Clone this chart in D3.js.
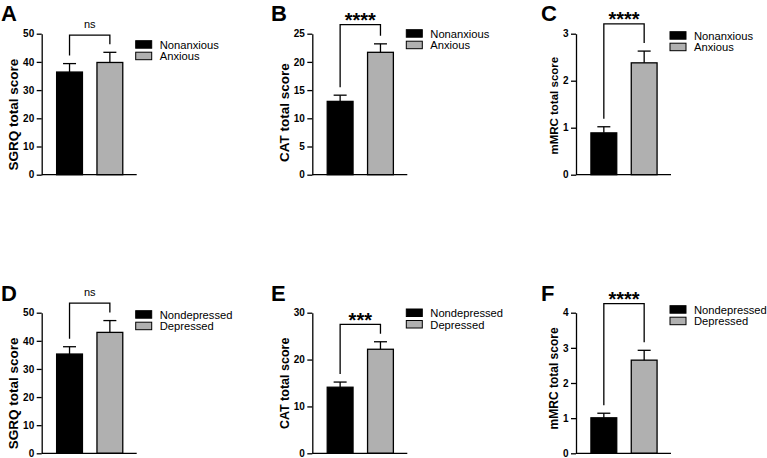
<!DOCTYPE html>
<html lang="en">
<head>
<meta charset="UTF-8">
<title>Anxiety / depression scores</title>
<style>
    body { margin: 0; background: #fff; }
    svg { display: block; font-family: "Liberation Sans", Arial, Helvetica, sans-serif; }
    .axis path, .axis line { stroke: #000; stroke-width: 1.3px; }
    .axis text { font-size: 10px; font-weight: bold; fill: #000; }
</style>
</head>
<body>
<div id="chart"></div>
<script src="https://d3js.org/d3.v7.min.js"></script>
<script>

    // ---- data ----
    var groupsAnx = ["Nonanxious", "Anxious"];
    var groupsDep = ["Nondepressed", "Depressed"];
    var panelLetters = ["A", "B", "C", "D", "E", "F"];
    var yTitles = ["SGRQ total score", "CAT total score", "mMRC total score",
                   "SGRQ total score", "CAT total score", "mMRC total score"];
    var means = [[36.4, 39.8], [13.0, 21.7], [0.89, 2.38],
                 [35.3, 43.0], [14.1, 22.2], [1.01, 2.65]];
    var sems  = [[3.0, 3.6], [1.1, 1.5], [0.13, 0.25],
                 [2.6, 4.2], [1.1, 1.6], [0.13, 0.28]];
    var yMax = [50, 25, 3, 50, 30, 4];
    var yStep = [10, 5, 1, 10, 10, 1];
    var sigLabels = ["ns", "****", "****", "ns", "***", "****"];
    var bracketAt = [49.5, 26.6, 3.21, 53.4, 27.5, 4.26];

    var barColors = ["#000000", "#b0b0b0"];

    // ---- layout ----
    var width = 767, height = 458;
    var colX = [41.7, 312.3, 576];          // y axis position of each column
    var rowTop = [33.7, 312.7], rowBottom = [174.7, 453.3];
    var letterX = [1, 271, 541], letterY = [20.5, 300.5];
    var legendDy = [7, -4, -2, -2, -3.7, -7];   // legend top relative to axis top
    var titleCy = [81, 79, 72, 80.6, 70.7, 65.7]; // y title centre below axis top
    var titleSize = [13.5, 13.5, 11.5, 13.5, 12.5, 12];

    var svg = d3.select("#chart").append("svg")
        .attr("width", width)
        .attr("height", height);

    panelLetters.forEach(function (letter, i) {
        var col = i % 3, row = Math.floor(i / 3);
        var groups = row === 0 ? groupsAnx : groupsDep;
        var x0 = colX[col], top = rowTop[row], bottom = rowBottom[row];

        var g = svg.append("g").attr("transform", "translate(" + x0 + ",0)");

        var x = d3.scaleBand()
            .domain(groups)
            .range([0, 96])
            .paddingInner(0.36)
            .paddingOuter(0.37);

        var y = d3.scaleLinear()
            .domain([0, yMax[i]])
            .range([bottom, top]);

        // panel letter
        svg.append("text")
            .attr("x", letterX[col])
            .attr("y", letterY[row])
            .attr("font-size", "22px")
            .attr("font-weight", "bold")
            .text(letter);

        // bars
        g.selectAll("rect.bar")
            .data(groups)
            .enter().append("rect")
            .attr("class", "bar")
            .attr("x", function (d) { return x(d); })
            .attr("y", function (d, j) { return y(means[i][j]); })
            .attr("width", x.bandwidth())
            .attr("height", function (d, j) { return y(0) - y(means[i][j]); })
            .attr("fill", function (d, j) { return barColors[j]; })
            .attr("stroke", "#000")
            .attr("stroke-width", 1.3);

        // error bars (upper only)
        var eb = g.selectAll("g.err")
            .data(groups)
            .enter().append("g")
            .attr("class", "err")
            .attr("stroke", "#000")
            .attr("stroke-width", 1.3);
        eb.append("line")
            .attr("x1", function (d) { return x(d) + x.bandwidth() / 2; })
            .attr("x2", function (d) { return x(d) + x.bandwidth() / 2; })
            .attr("y1", function (d, j) { return y(means[i][j]); })
            .attr("y2", function (d, j) { return y(means[i][j] + sems[i][j]); });
        eb.append("line")
            .attr("x1", function (d) { return x(d) + x.bandwidth() / 2 - 6.5; })
            .attr("x2", function (d) { return x(d) + x.bandwidth() / 2 + 6.5; })
            .attr("y1", function (d, j) { return y(means[i][j] + sems[i][j]); })
            .attr("y2", function (d, j) { return y(means[i][j] + sems[i][j]); });

        // significance bracket
        var cx = groups.map(function (d) { return x(d) + x.bandwidth() / 2; });
        var by = y(bracketAt[i]);
        var legs = groups.map(function (d, j) { return y(means[i][j] + sems[i][j]) - 8; });
        g.append("path")
            .attr("d", "M" + cx[0] + "," + legs[0] + "V" + by + "H" + cx[1] + "V" + legs[1])
            .attr("fill", "none")
            .attr("stroke", "#000")
            .attr("stroke-width", 1.3);

        var isNs = sigLabels[i] === "ns";
        g.append("text")
            .attr("x", (cx[0] + cx[1]) / 2)
            .attr("y", isNs ? by - 7 : by + 2.5)
            .attr("text-anchor", "middle")
            .attr("font-size", isNs ? "11px" : "20px")
            .attr("font-weight", isNs ? "normal" : "bold")
            .text(sigLabels[i]);

        // axes
        var yAxisG = g.append("g")
            .attr("class", "axis")
            .call(d3.axisLeft(y)
                .tickValues(d3.range(0, yMax[i] + yStep[i] / 2, yStep[i]))
                .tickFormat(d3.format("d"))
                .tickSize(5)
                .tickSizeOuter(0)
                .tickPadding(2.5));

        g.append("line")
            .attr("x1", 0)
            .attr("x2", 95)
            .attr("y1", y(0))
            .attr("y2", y(0))
            .attr("stroke", "#000")
            .attr("stroke-width", 1.3);

        // y title
        var bb = yAxisG.node().getBBox();
        g.append("text")
            .attr("transform", "translate(" + (bb.x - 5) + "," + (top + titleCy[i]) + ") rotate(-90)")
            .attr("text-anchor", "middle")
            .attr("font-size", titleSize[i] + "px")
            .attr("font-weight", "bold")
            .text(yTitles[i]);

        // legend
        var lg = g.append("g")
            .attr("transform", "translate(94," + (top + legendDy[i]) + ")");
        var item = lg.selectAll("g")
            .data(groups)
            .enter().append("g")
            .attr("transform", function (d, j) { return "translate(0," + (j * 11.5) + ")"; });
        item.append("rect")
            .attr("width", 16)
            .attr("height", 7.5)
            .attr("fill", function (d, j) { return barColors[j]; })
            .attr("stroke", "#000")
            .attr("stroke-width", 1);
        item.append("text")
            .attr("x", 24)
            .attr("y", 8)
            .attr("font-size", "11.2px")
            .text(function (d) { return d; });
    });

</script>
</body>
</html>
